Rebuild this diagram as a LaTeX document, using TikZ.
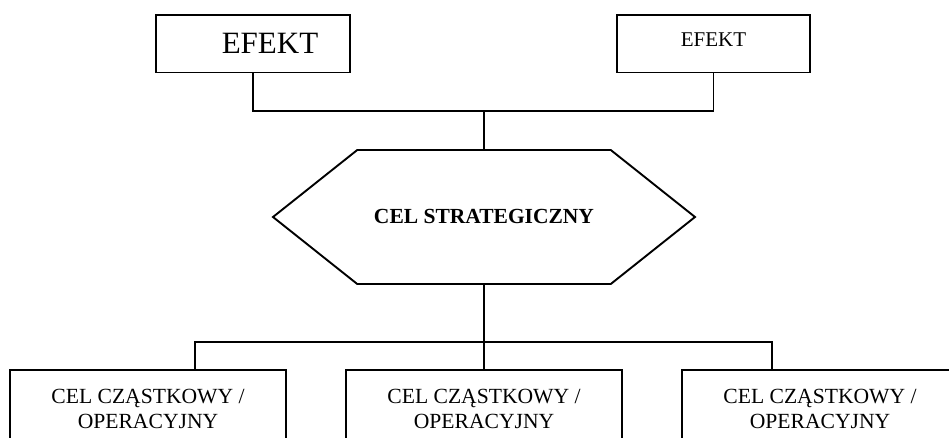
\documentclass[tikz,border=0pt]{standalone}
\usepackage{fontspec}
\setmainfont{Liberation Serif}
\usetikzlibrary{shapes.symbols}
\begin{document}
\begin{tikzpicture}[x=1pt,y=-1pt,
  line width=1.9pt,
  topbox/.style={draw,rectangle,inner sep=0pt,minimum width=194pt,minimum height=57.5pt},
  subbox/.style={draw,rectangle,inner sep=0pt,minimum width=276pt,minimum height=78pt,anchor=north,align=center,font=\fontsize{21.6}{25}\selectfont},
  hexa/.style={draw,signal,signal to=west and east,signal pointer angle=77,minimum width=422pt,minimum height=134pt,inner sep=0pt,font=\fontsize{21.5}{25}\selectfont\bfseries},
  link/.style={line width=1.9pt}]
\useasboundingbox (0,0) rectangle (949,437);
\clip (0,0) rectangle (949,437);

\node[topbox,font=\fontsize{31}{36}\selectfont] (e1) at (253,43.75) {\hspace*{34pt}EFEKT};
\node[topbox,font=\fontsize{21}{25}\selectfont,minimum width=193pt] (e2) at (713.5,43.75) {\raisebox{9pt}{EFEKT}};

\node[hexa] (strat) at (484,217) {\raisebox{1.5pt}{CEL STRATEGICZNY}};

\node[subbox] (a) at (148,369) {CEL CZĄSTKOWY /\\OPERACYJNY};
\node[subbox] (b) at (484,369) {CEL CZĄSTKOWY /\\OPERACYJNY};
\node[subbox] (c) at (820,369) {CEL CZĄSTKOWY /\\OPERACYJNY};

\coordinate (top) at (484,111);
\coordinate (bot) at (484,342);
\coordinate (la) at (195,342);
\coordinate (ra) at (772,342);

\draw[link] (e1.south) |- (top) -| (e2.south);
\draw[link] (top) -- (strat.north);
\draw[link] (strat.south) -- (bot);
\draw[link] (a.north -| la) -- (la) -- (ra) -- (c.north -| ra);
\draw[link] (bot) -- (b.north);
\end{tikzpicture}
\end{document}
